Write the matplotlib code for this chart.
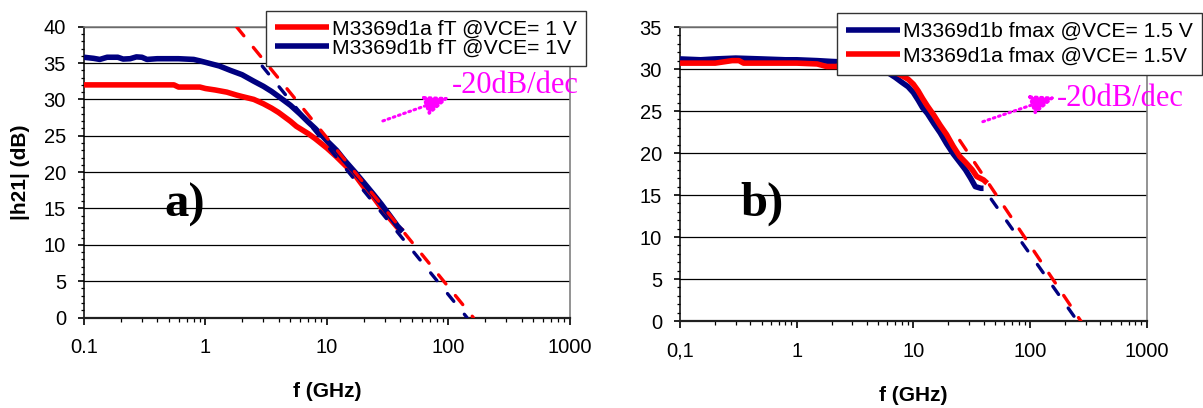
import matplotlib
matplotlib.use("Agg")
import matplotlib.pyplot as plt
from matplotlib.ticker import FixedLocator, FixedFormatter, MultipleLocator, NullFormatter

plt.rcParams['font.family'] = ['Liberation Sans', 'DejaVu Sans']

# ---------------- (a) current gain |h21| ----------------
ft_a_freq = [0.1, 0.2, 0.3, 0.45, 0.55, 0.6, 0.9, 1.0, 1.2, 1.5, 1.8, 2.0, 2.5, 3.0,
             3.5, 4.0, 5.0, 5.6, 7.0, 8.0, 10, 12, 14, 17, 20, 24, 28, 33, 38, 42]
ft_a_db = [32.0, 32.0, 32.0, 32.0, 32.0, 31.7, 31.7, 31.5, 31.3, 31.0, 30.6, 30.4, 30.0, 29.4,
           28.8, 28.2, 27.0, 26.3, 25.3, 24.6, 23.3, 22.1, 21.0, 19.6, 18.0, 16.6, 15.1, 13.6, 12.4, 11.9]

ft_b_freq = [0.1, 0.12, 0.135, 0.155, 0.19, 0.21, 0.24, 0.27, 0.30, 0.33, 0.4, 0.6, 0.8, 0.9,
             1.0, 1.3, 1.6, 2.0, 2.5, 3.0, 3.5, 4.0, 5.0, 6.0, 7.0, 8.0, 10, 12, 14, 17,
             20, 24, 28, 33, 38, 42]
ft_b_db = [35.8, 35.65, 35.5, 35.8, 35.8, 35.55, 35.6, 35.85, 35.8, 35.5, 35.6, 35.6, 35.5, 35.3,
           35.1, 34.6, 34.0, 33.4, 32.5, 31.8, 31.1, 30.4, 29.2, 28.0, 26.9, 26.0, 24.3, 23.0, 21.6, 20.0,
           18.6, 17.0, 15.6, 14.0, 12.6, 11.8]

# -20 dB/dec asymptotes
ft_a_ext_freq = [1.8, 160]
ft_a_ext_db = [40, 0]
ft_b_ext_freq = [2.5, 142]
ft_b_ext_db = [36, 0]

# ---------------- (b) maximum available gain (fmax) ----------------
fmax_b_freq = [0.1, 0.15, 0.2, 0.3, 0.5, 0.8, 1.0, 1.5, 2.0, 3.0, 4.0, 5.0, 6.0, 7.0,
               8.0, 9.0, 10, 11, 12, 13.2, 15, 17, 19.3, 22, 25, 28, 31, 34, 38, 40]
fmax_b_db = [31.2, 31.1, 31.2, 31.3, 31.2, 31.1, 31.1, 31.0, 30.9, 30.8, 30.6, 30.2, 29.6, 29.0,
             28.4, 27.9, 27.2, 26.3, 25.4, 24.7, 23.5, 22.4, 21.1, 19.9, 18.9, 18.0, 17.0, 16.0, 15.8, 15.8]

fmax_a_freq = [0.1, 0.2, 0.28, 0.32, 0.35, 0.8, 1.0, 1.5, 1.8, 2.2, 2.5, 3.0, 4.0, 5.0,
               6.0, 7.0, 8.0, 9.0, 10, 11, 12, 13.2, 15, 17, 19.3, 22, 25, 28, 32, 35, 40, 43]
fmax_a_db = [30.7, 30.7, 31.0, 31.0, 30.7, 30.7, 30.7, 30.6, 30.3, 30.3, 30.6, 30.6, 30.5, 30.3,
             30.0, 29.6, 29.2, 28.8, 28.2, 27.4, 26.5, 25.6, 24.5, 23.3, 22.2, 20.8, 19.6, 18.9, 18.0,
             17.2, 16.8, 16.4]

fmax_b_ext_freq = [40, 255]
fmax_b_ext_db = [15.8, 0]
fmax_a_ext_freq = [25, 273]
fmax_a_ext_db = [21.5, 0]

decade_ticks = [0.1, 1, 10, 100, 1000]
decade_labels_a = ['0.1', '1', '10', '100', '1000']
decade_labels_b = ['0,1', '1', '10', '100', '1000']
minor_ticks = [m * 10.0 ** e for e in range(-1, 3) for m in range(2, 10)]

RED = '#FF0000'
NAVY = '#000080'
MAGENTA = '#FF00FF'
FRAME_GREY = '#808080'

fig = plt.figure(figsize=(12.03, 4.08), dpi=100, facecolor='white')
ax_a = fig.add_axes([0.0698, 0.2218, 0.404, 0.7127])
ax_b = fig.add_axes([0.5653, 0.2132, 0.3878, 0.7206])


def style_axes(ax, ymax, labels):
    ax.set_xscale('log')
    ax.set_xlim(0.1, 1000)
    ax.set_ylim(0, ymax)
    ax.xaxis.set_major_locator(FixedLocator(decade_ticks))
    ax.xaxis.set_major_formatter(FixedFormatter(labels))
    ax.xaxis.set_minor_locator(FixedLocator(minor_ticks))
    ax.xaxis.set_minor_formatter(NullFormatter())
    ax.yaxis.set_major_locator(MultipleLocator(5))
    ax.yaxis.set_minor_locator(MultipleLocator(1))
    ax.tick_params(axis='both', which='major', direction='out', labelsize=14.5,
                   color='black', width=1.2)
    ax.tick_params(axis='x', which='major', length=5, pad=10)
    ax.tick_params(axis='y', which='major', length=4.5, pad=8.5)
    ax.tick_params(axis='x', which='minor', direction='out', length=3, width=0.9)
    ax.tick_params(axis='y', which='minor', direction='out', length=2.5, width=0.9)
    ax.set_axisbelow(True)
    ax.yaxis.grid(True, which='major', color='black', linewidth=0.9)
    ax.spines['left'].set_color('black')
    ax.spines['left'].set_linewidth(1.1)
    ax.spines['bottom'].set_color('#202020')
    ax.spines['bottom'].set_linewidth(1.6)
    for side in ('top', 'right'):
        ax.spines[side].set_color(FRAME_GREY)
        ax.spines[side].set_linewidth(1.2)
    ax.set_xlabel('f (GHz)', fontsize=15, fontweight='bold')
    ax.xaxis.label.set_va('center')


line_kw = dict(linewidth=4.0, solid_capstyle='butt', solid_joinstyle='round')
dash_kw = dict(linewidth=2.4, dash_capstyle='round')
arrow_props = dict(arrowstyle='-|>,head_length=0.75,head_width=0.3',
                   color=MAGENTA, lw=2.2, linestyle=(0, (0.6, 1.2)),
                   capstyle='round', shrinkA=0, shrinkB=0, mutation_scale=20)
legend_kw = dict(loc='upper left', borderaxespad=0, fontsize=15.2, handlelength=2.55,
                 handletextpad=0.15, borderpad=0.42, fancybox=False,
                 edgecolor='#333333', framealpha=1)

# ---- panel a ----
style_axes(ax_a, 40, decade_labels_a)
ax_a.plot(ft_a_freq, ft_a_db, color=RED, label='M3369d1a fT @VCE= 1 V', zorder=3, **line_kw)
ax_a.plot(ft_b_freq, ft_b_db, color=NAVY, label='M3369d1b fT @VCE= 1V', zorder=3.1, **line_kw)
ax_a.plot(ft_a_ext_freq, ft_a_ext_db, color=RED, linestyle=(0, (3.5, 4.5)), zorder=4, **dash_kw)
ax_a.plot(ft_b_ext_freq, ft_b_ext_db, color=NAVY, linestyle=(4, (3.0, 5.0)), zorder=4.1, **dash_kw)
ax_a.set_ylabel('|h21| (dB)', fontsize=15, fontweight='bold')
ax_a.yaxis.label.set_va('center')
ax_a.yaxis.set_label_coords(-0.13, 0.5)
ax_a.xaxis.set_label_coords(0.5, -0.253)

leg_a = ax_a.legend(bbox_to_anchor=(0.3745, 1.055), labelspacing=0.0, **legend_kw)
leg_a.get_frame().set_linewidth(1.0)
leg_a.set_zorder(10)

ax_a.annotate('', xy=(0.753, 0.758), xytext=(0.615, 0.676),
              xycoords='axes fraction', textcoords='axes fraction', arrowprops=arrow_props)
ax_a.text(0.757, 0.772, '-20dB/dec', transform=ax_a.transAxes, color=MAGENTA,
          fontsize=22, family='Liberation Serif', ha='left', va='baseline')
ax_a.text(0.165, 0.346, 'a)', transform=ax_a.transAxes, fontsize=35,
          family='Liberation Serif', fontweight='bold', ha='left', va='baseline')

# ---- panel b ----
style_axes(ax_b, 35, decade_labels_b)
ax_b.plot(fmax_b_freq, fmax_b_db, color=NAVY, label='M3369d1b fmax @VCE= 1.5 V', zorder=3, **line_kw)
ax_b.plot(fmax_a_freq, fmax_a_db, color=RED, label='M3369d1a fmax @VCE= 1.5V', zorder=3.1, **line_kw)
ax_b.plot(fmax_b_ext_freq, fmax_b_ext_db, color=NAVY, linestyle=(4, (3.0, 5.0)), zorder=4, **dash_kw)
ax_b.plot(fmax_a_ext_freq, fmax_a_ext_db, color=RED, linestyle=(0, (3.5, 4.5)), zorder=4.1, **dash_kw)
ax_b.xaxis.set_label_coords(0.5, -0.252)

leg_b = ax_b.legend(bbox_to_anchor=(0.337, 1.0466), labelspacing=0.27, **legend_kw)
leg_b.get_frame().set_linewidth(1.0)
leg_b.set_zorder(10)

ax_b.annotate('', xy=(0.806, 0.763), xytext=(0.649, 0.678),
              xycoords='axes fraction', textcoords='axes fraction', arrowprops=arrow_props)
ax_b.text(0.808, 0.733, '-20dB/dec', transform=ax_b.transAxes, color=MAGENTA,
          fontsize=22, family='Liberation Serif', ha='left', va='baseline')
ax_b.text(0.129, 0.36, 'b)', transform=ax_b.transAxes, fontsize=35,
          family='Liberation Serif', fontweight='bold', ha='left', va='baseline')

fig.savefig('out.png', dpi=100, facecolor='white')
